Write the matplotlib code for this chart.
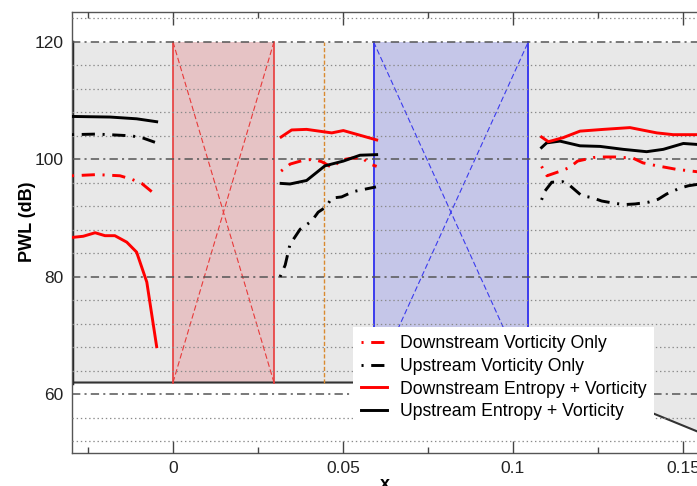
import matplotlib
matplotlib.use("Agg")
import matplotlib.pyplot as plt
from matplotlib.ticker import MultipleLocator, FixedLocator

plt.rcParams['font.family'] = ['Liberation Sans', 'DejaVu Sans']
plt.rcParams['lines.scale_dashes'] = False

# ---- data ----
# downstream vorticity only (red dash-dot)
dv_xa = [-0.0297, -0.0224, -0.0156, -0.0121, -0.0092, -0.0048]
dv_ya = [97.2, 97.4, 97.2, 96.6, 95.9, 93.8]
dv_xb = [0.0318, 0.0345, 0.0381, 0.0412, 0.0437, 0.0447, 0.0467, 0.0496, 0.0526, 0.0555, 0.0579, 0.0599]
dv_yb = [98.0, 99.2, 99.8, 100.0, 99.6, 99.3, 98.6, 99.9, 100.2, 100.3, 99.2, 98.8]
dv_xc = [0.1084, 0.1100, 0.1140, 0.1166, 0.1190, 0.1236, 0.1256, 0.1300, 0.1353, 0.1382, 0.1423, 0.1452, 0.1480, 0.1540, 0.1600]
dv_yc = [98.8, 97.2, 98.0, 98.6, 99.7, 100.3, 100.4, 100.4, 100.2, 99.4, 98.9, 98.6, 98.3, 97.9, 97.6]

# upstream vorticity only (black dash-dot)
uv_xa = [-0.0297, -0.0224, -0.0122, -0.0087, -0.0053]
uv_ya = [104.2, 104.3, 104.0, 103.6, 102.9]
uv_xb = [0.0315, 0.0330, 0.0344, 0.0374, 0.0408, 0.0427, 0.0450, 0.0467, 0.0496, 0.0530, 0.0563, 0.0597]
uv_yb = [80.0, 82.0, 85.5, 88.1, 89.5, 91.0, 91.9, 93.4, 93.6, 94.5, 94.9, 95.3]
uv_xc = [0.1084, 0.1094, 0.1114, 0.1146, 0.1168, 0.1202, 0.1231, 0.1261, 0.1300, 0.1329, 0.1359, 0.1398, 0.1427, 0.1452, 0.1491, 0.1516, 0.1550]
uv_yc = [93.1, 94.6, 96.1, 96.2, 95.5, 93.8, 93.5, 92.9, 92.5, 92.3, 92.4, 92.7, 93.2, 94.1, 95.1, 95.5, 95.8]

# downstream entropy + vorticity (red solid)
de_xa = [-0.0297, -0.0264, -0.0229, -0.0200, -0.0171, -0.0136, -0.0107, -0.0077, -0.0048]
de_ya = [86.7, 86.9, 87.5, 87.0, 87.0, 85.9, 84.2, 79.1, 68.1]
de_xb = [0.0318, 0.0349, 0.0393, 0.0442, 0.0467, 0.0501, 0.0550, 0.0599]
de_yb = [103.8, 105.0, 105.1, 104.7, 104.5, 104.9, 104.1, 103.3]
de_xc = [0.1084, 0.1104, 0.1148, 0.1197, 0.1266, 0.1344, 0.1423, 0.1471, 0.1600]
de_yc = [103.8, 103.0, 103.7, 104.8, 105.1, 105.4, 104.5, 104.2, 104.2]

# upstream entropy + vorticity (black solid)
ue_xa = [-0.0297, -0.0185, -0.0107, -0.0048]
ue_ya = [107.3, 107.2, 106.9, 106.4]
ue_xb = [0.0318, 0.0344, 0.0393, 0.0447, 0.0501, 0.0550, 0.0599]
ue_yb = [95.9, 95.8, 96.4, 98.9, 99.7, 100.7, 100.8]
ue_xc = [0.1084, 0.1099, 0.1138, 0.1197, 0.1256, 0.1324, 0.1393, 0.1442, 0.1501, 0.1600]
ue_yc = [102.0, 102.8, 103.1, 102.3, 102.2, 101.7, 101.3, 101.7, 102.7, 102.3]

labels = ['Downstream Vorticity Only', 'Upstream Vorticity Only',
          'Downstream Entropy + Vorticity', 'Upstream Entropy + Vorticity']

# regions
x_left, x_right = -0.0297, 0.16
region_bottom_x = [x_left, 0.119, 0.16]
region_bottom_y = [62, 62, 52.3]
red_box = (0.0, 0.0297)
blue_box = (0.059, 0.1045)
orange_x = 0.0444
y_lo, y_hi = 62, 120

fig = plt.figure(figsize=(6.97, 4.86), dpi=100)
ax = fig.add_axes([0.1033, 0.0679, 0.9254, 0.9064])
ax.set_xlim(x_left, x_right)
ax.set_ylim(50, 125)

# grey domain
ax.fill_between(region_bottom_x, region_bottom_y, y_hi, color='#e8e8e8', zorder=0.5, lw=0)
ax.plot(region_bottom_x, region_bottom_y, color='#333333', lw=1.5, zorder=1.5)
ax.plot([x_left, x_left], [y_lo, y_hi], color='#222222', lw=2.5, zorder=1.5)

# red box
r0, r1 = red_box
ax.fill_between([r0, r1], y_lo, y_hi, color='#e6c3c5', zorder=0.8, lw=0)
for xx in red_box:
    ax.plot([xx, xx], [y_lo, y_hi], color='#e83a3a', lw=1.2, zorder=1.5)
ax.plot([r0, r1], [y_lo, y_hi], color='#e83a3a', lw=0.8, ls=(0, (4, 2)), zorder=1.5)
ax.plot([r0, r1], [y_hi, y_lo], color='#e83a3a', lw=0.8, ls=(0, (4, 2)), zorder=1.5)

# blue box
b0, b1 = blue_box
ax.fill_between([b0, b1], y_lo, y_hi, color='#c5c6e8', zorder=0.8, lw=0)
for xx in blue_box:
    ax.plot([xx, xx], [y_lo, y_hi], color='#3b3bee', lw=1.4, zorder=1.5)
ax.plot([b0, b1], [y_lo, y_hi], color='#3b3bee', lw=0.8, ls=(0, (4, 2)), zorder=1.5)
ax.plot([b0, b1], [y_hi, y_lo], color='#3b3bee', lw=0.8, ls=(0, (4, 2)), zorder=1.5)

# orange marker line
ax.plot([orange_x, orange_x], [y_lo, y_hi], color='#d98a30', lw=1.0, ls=(0, (3, 1.5)), zorder=1.5)

# curves
dashdot = (0, (1.5, 5.5, 9.5, 5.5))
lw = 2.1
for i, (xs, ys) in enumerate([(dv_xa, dv_ya), (dv_xb, dv_yb), (dv_xc, dv_yc)]):
    ax.plot(xs, ys, color='#ff0000', lw=lw, ls=dashdot, zorder=3, label=labels[0] if i == 0 else None)
for i, (xs, ys) in enumerate([(uv_xa, uv_ya), (uv_xb, uv_yb), (uv_xc, uv_yc)]):
    ax.plot(xs, ys, color='black', lw=lw, ls=dashdot, zorder=3, label=labels[1] if i == 0 else None)
for i, (xs, ys) in enumerate([(ue_xa, ue_ya), (ue_xb, ue_yb), (ue_xc, ue_yc)]):
    ax.plot(xs, ys, color='black', lw=lw, zorder=3, label=labels[3] if i == 0 else None)
for i, (xs, ys) in enumerate([(de_xa, de_ya), (de_xb, de_yb), (de_xc, de_yc)]):
    ax.plot(xs, ys, color='#ff0000', lw=lw, zorder=3, label=labels[2] if i == 0 else None)

# grid (drawn above the shaded regions, below the curves)
ax.yaxis.set_major_locator(FixedLocator([60, 80, 100, 120]))
ax.yaxis.set_minor_locator(MultipleLocator(4))
ax.grid(True, axis='y', which='major', color='#555555', lw=1.1, ls=(0, (6, 3, 1.5, 3)))
ax.grid(True, axis='y', which='minor', color='#8a8a8a', lw=0.9, ls=(0, (1, 2)))
ax.set_axisbelow(False)

ax.set_xticks([0, 0.05, 0.1, 0.15])
ax.set_xticklabels(['0', '0.05', '0.1', '0.15'])
ax.xaxis.set_minor_locator(FixedLocator([-0.025, 0.025, 0.075, 0.125]))
ax.tick_params(axis='x', which='major', direction='in', length=9, width=1, top=True,
               color='#444444', labelsize=12.5, labelcolor='#222222', pad=6)
ax.tick_params(axis='x', which='minor', direction='in', length=4, width=1, top=True, color='#444444')
ax.tick_params(axis='y', which='both', length=0, labelsize=12.5, labelcolor='#222222', pad=6)

for s in ['left', 'bottom', 'top', 'right']:
    ax.spines[s].set_color('#555555')
    ax.spines[s].set_linewidth(1.0)

ax.set_ylabel('PWL (dB)', fontsize=13, fontweight='bold')
ax.yaxis.set_label_coords(-0.056, 0.524)
ax.set_xlabel('x', fontsize=13, fontweight='bold')
ax.xaxis.set_label_coords(0.485, -0.052)

handles, labs = ax.get_legend_handles_labels()
order = [labs.index(l) for l in labels]
leg = ax.legend([handles[i] for i in order], [labs[i] for i in order],
                loc='upper left', bbox_to_anchor=(353 / 697, 1 - 327 / 486),
                bbox_transform=fig.transFigure, fontsize=12.7, frameon=True,
                fancybox=False, edgecolor='none', facecolor='white', framealpha=1,
                handlelength=1.45, handletextpad=0.75, labelspacing=0.33,
                borderpad=0.45, borderaxespad=0)
leg.set_zorder(5)

fig.savefig('out.png', dpi=100)
